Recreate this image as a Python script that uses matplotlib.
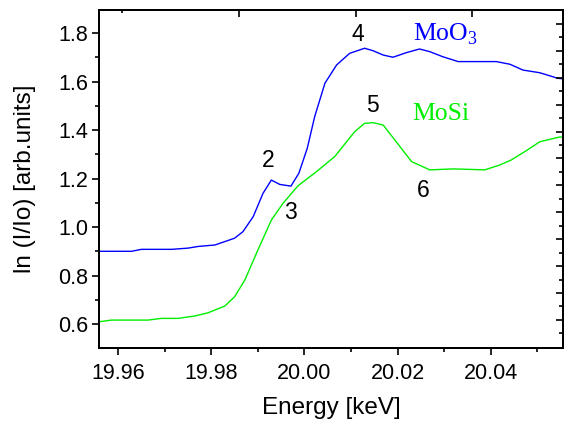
import matplotlib
matplotlib.use("Agg")
import matplotlib.pyplot as plt
from matplotlib.ticker import MultipleLocator, FixedLocator, NullFormatter

# ---- data ----
e_moo3 = [19.9559, 19.9629, 19.9650, 19.9715, 19.9750, 19.9772, 19.9808, 19.9850,
          19.9868, 19.9890, 19.9911, 19.9929, 19.9947, 19.9971, 19.9988, 20.0006,
          20.0022, 20.0044, 20.0069, 20.0097, 20.0129, 20.0147, 20.0169, 20.0190,
          20.0219, 20.0247, 20.0269, 20.0297, 20.0330, 20.0412, 20.0441, 20.0469,
          20.0505, 20.0544, 20.0554]
y_moo3 = [0.900, 0.900, 0.908, 0.908, 0.913, 0.920, 0.926, 0.954,
          0.981, 1.043, 1.139, 1.194, 1.176, 1.169, 1.222, 1.325,
          1.456, 1.594, 1.669, 1.717, 1.738, 1.728, 1.710, 1.701,
          1.720, 1.735, 1.724, 1.703, 1.683, 1.683, 1.672, 1.648,
          1.637, 1.614, 1.612]

e_mosi = [19.9559, 19.9586, 19.9664, 19.9693, 19.9729, 19.9765, 19.9793, 19.9829,
          19.9850, 19.9872, 19.9900, 19.9929, 19.9954, 19.9986, 20.0026, 20.0065,
          20.0108, 20.0129, 20.0147, 20.0169, 20.0197, 20.0230, 20.0269, 20.0319,
          20.0355, 20.0387, 20.0419, 20.0444, 20.0476, 20.0505, 20.0546, 20.0554]
y_mosi = [0.609, 0.616, 0.616, 0.623, 0.623, 0.633, 0.646, 0.674,
          0.712, 0.781, 0.905, 1.029, 1.098, 1.170, 1.229, 1.291,
          1.394, 1.428, 1.431, 1.421, 1.352, 1.270, 1.236, 1.240,
          1.238, 1.236, 1.256, 1.277, 1.315, 1.352, 1.371, 1.372]

peak_labels = ["2", "3", "4", "5", "6"]
peak_e = [19.9923, 19.9969, 20.0114, 20.0145, 20.0255]
peak_y = [1.247, 1.032, 1.768, 1.476, 1.126]

series_names = [r"MoO$_\mathregular{3}$", "MoSi"]

# ---- figure ----
plt.rcParams['font.family'] = ['Liberation Sans', 'DejaVu Sans']
fig = plt.figure(figsize=(5.65, 4.23), dpi=100)
ax = fig.add_axes([0.1752, 0.178, 0.9965 - 0.1752, 0.9764 - 0.178])

ax.plot(e_moo3, y_moo3, color='#0000ff', lw=1.0)
ax.plot(e_mosi, y_mosi, color='#00ee00', lw=1.0)

ax.set_xlim(19.9559, 20.0555)
ax.set_ylim(0.502, 1.896)

ax.xaxis.set_major_locator(MultipleLocator(0.02))
ax.xaxis.set_minor_locator(MultipleLocator(0.01))
ax.yaxis.set_major_locator(MultipleLocator(0.2))
ax.yaxis.set_minor_locator(MultipleLocator(0.1))
ax.xaxis.set_major_formatter(matplotlib.ticker.FormatStrFormatter('%.2f'))
ax.yaxis.set_major_formatter(matplotlib.ticker.FormatStrFormatter('%.1f'))

ax.tick_params(axis='both', which='major', direction='out', length=5, width=1.2,
               labelsize=15.5, colors='black')
ax.tick_params(axis='both', which='minor', direction='out', length=3, width=1.2)
ax.tick_params(axis='x', pad=6)
ax.tick_params(axis='y', pad=3)
for s in ax.spines.values():
    s.set_linewidth(1.4)

ax.set_xlabel("Energy [keV]", fontsize=17.5)
ax.set_ylabel("ln (I/Io) [arb.units]", fontsize=17.5)
ax.xaxis.set_label_coords(0.5, -0.145)
ax.yaxis.set_label_coords(-0.135, 0.5)

# mirrored tick marks (inward) on top and right
axt = ax.twiny()
axt.set_xlim(0, 1)
axt.xaxis.set_major_locator(FixedLocator([0.3024, 0.5532, 0.8032]))
axt.xaxis.set_minor_locator(FixedLocator([0.0502]))
axt.xaxis.set_major_formatter(NullFormatter())
axt.tick_params(axis='x', which='major', direction='in', length=5, width=1.2, top=True)
axt.tick_params(axis='x', which='minor', direction='in', length=2.5, width=1.2, top=True)

axr = ax.twinx()
axr.set_ylim(0, 1)
rmaj = [0.0823 + k * 0.07966 for k in range(12)]
rmin = [0.0425 + k * 0.07966 for k in range(12)]
axr.yaxis.set_major_locator(FixedLocator(rmaj))
axr.yaxis.set_minor_locator(FixedLocator(rmin))
axr.yaxis.set_major_formatter(NullFormatter())
axr.tick_params(axis='y', which='major', direction='in', length=5, width=1.2, right=True)
axr.tick_params(axis='y', which='minor', direction='in', length=3, width=1.2, right=True)
for a in (axt, axr):
    for s in a.spines.values():
        s.set_linewidth(1.4)

# annotations
for lab, xe, yv in zip(peak_labels, peak_e, peak_y):
    ax.text(xe, yv, lab, fontsize=16.5, ha='center', va='baseline', color='black')

ax.text(20.0232, 1.769, series_names[0], fontsize=18.5, color='#0000ff',
        family='Liberation Serif', ha='left', va='baseline')
ax.text(20.0232, 1.442, series_names[1], fontsize=18.5, color='#00ee00',
        family='Liberation Serif', ha='left', va='baseline')

fig.savefig("out.png", dpi=100)
